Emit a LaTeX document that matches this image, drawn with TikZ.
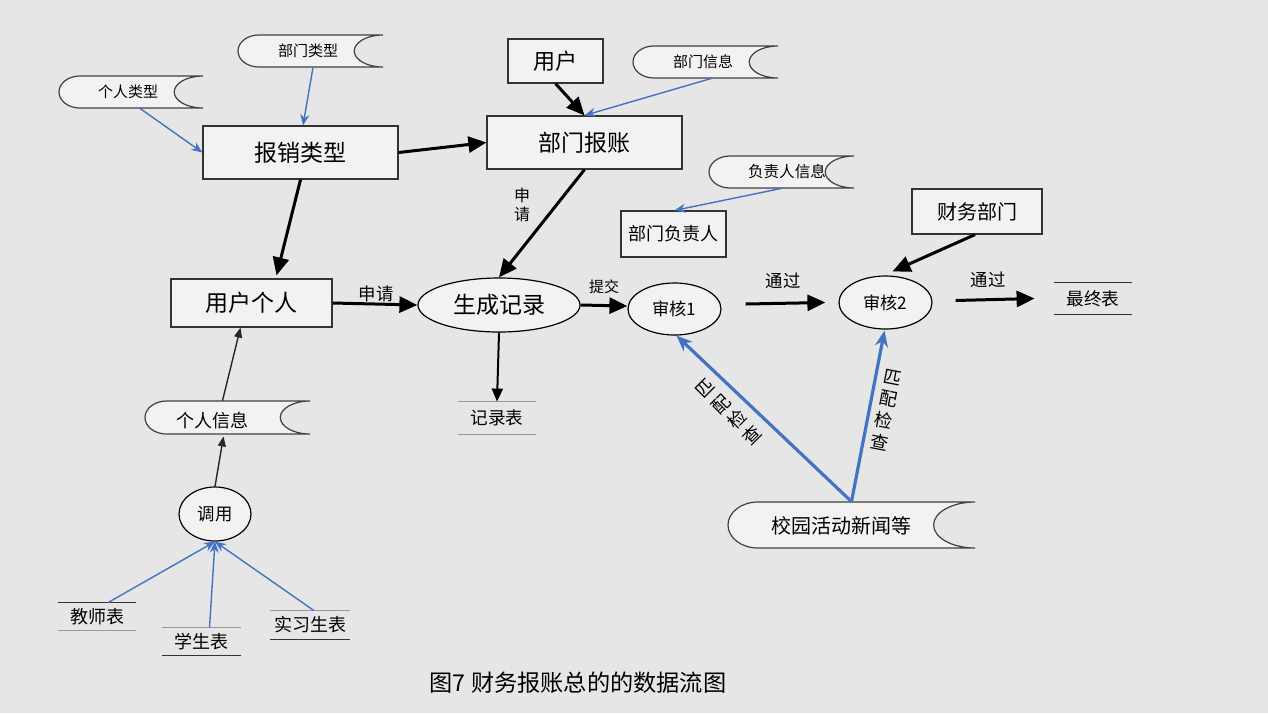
\documentclass[tikz,border=0pt]{standalone}
\usepackage{fontspec}
\setmainfont{Noto Sans CJK SC}
\usetikzlibrary{calc, arrows.meta, positioning, shapes.geometric}
\definecolor{bgcol}{HTML}{E6E6E6}
\definecolor{boxfill}{HTML}{F2F2F2}
\definecolor{flowblue}{HTML}{4472C4}

\newcommand{\setfs}[1]{\fontsize{#1}{#1}\selectfont}
% stored data shape: name, left x, right x, top y, bottom y
\newcommand{\storedata}[5]{%
  \pgfmathsetmacro\sdr{(#5-#4)/2}
  \draw[storeline] ({#2+\sdr*1.3},#4) -- (#3,#4)
    arc[start angle=270, end angle=90, x radius=\sdr*1.8, y radius=\sdr]
    -- ({#2+\sdr*1.3},#5)
    arc[start angle=90, end angle=270, x radius=\sdr*1.3, y radius=\sdr] -- cycle;
  \node[inner sep=0pt, minimum width={(#3-#2)*0.5pt}, minimum height={(#5-#4)*0.5pt}]
    (#1) at ({(#2+#3)/2},{(#4+#5)/2}) {};
}

\begin{document}
\begin{tikzpicture}[x=0.5pt, y=-0.5pt,
    storeline/.style={draw=black!75, fill=boxfill, line width=0.6pt},
    procbox/.style={draw=black!80, fill=boxfill, line width=0.6pt, inner sep=0pt},
    procell/.style={draw=black, fill=boxfill, ellipse, line width=0.6pt, inner sep=0pt},
    storetext/.style={inner sep=0pt},
    tablenode/.style={inner sep=0pt},
    flow/.style={line width=1.5pt, -{Triangle[length=9pt, width=8pt]}},
    thinflow/.style={line width=0.7pt, black!85, -{Triangle[length=5pt, width=4pt]}},
    blueflow/.style={line width=0.7pt, flowblue, -{Stealth[length=5.5pt, width=4.5pt]}},
    bluebold/.style={line width=1.6pt, flowblue, -{Stealth[length=8pt, width=6.5pt]}},
    lbl/.style={inner sep=0pt, font=\setfs{8.7}}]
  \fill[bgcol] (0,0) rectangle (1268,713);
  \useasboundingbox (0,0) rectangle (1268,713);

  % data sources
  \storedata{bumenlx}{238}{383}{35}{67}
  \storedata{gerenlx}{59}{203}{76}{108}
  \storedata{bumenxx}{633}{778}{46}{78}
  \storedata{fuzerenxx}{709}{854}{156}{188}
  \storedata{gerenxx}{145}{310}{401}{434}
  \storedata{xiaoyuan}{728}{975}{502}{548}
  \node[storetext, font=\setfs{7.5}] (bumenlx-t) at (308,51) {部门类型};
  \node[storetext, font=\setfs{7.5}] (gerenlx-t) at (128,92) {个人类型};
  \node[storetext, font=\setfs{7.5}] (bumenxx-t) at (703,62) {部门信息};
  \node[storetext, font=\setfs{7.8}] (fuzerenxx-t) at (787,172) {负责人信息};
  \node[storetext, font=\setfs{9}] (gerenxx-t) at (212,421) {个人信息};
  \node[storetext, font=\setfs{10}] (xiaoyuan-t) at (841,526) {校园活动新闻等};

  % processes and entities
  \node[procbox, minimum width=97.5pt, minimum height=26.5pt, font=\setfs{11.5}] (baoxiao) at (300.5,152.5) {报销类型};
  \node[procbox, minimum width=47.5pt, minimum height=22pt, font=\setfs{11}] (yonghu) at (555.5,61) {用户};
  \node[procbox, minimum width=97.5pt, minimum height=26.5pt, font=\setfs{11.5}] (bumenbz) at (584.5,142.5) {部门报账};
  \node[procbox, minimum width=52.5pt, minimum height=23pt, font=\setfs{9}] (fuzeren) at (673.5,234) {部门负责人};
  \node[procbox, minimum width=65pt, minimum height=22.5pt, font=\setfs{10}] (caiwu) at (977,211.5) {财务部门};
  \node[procbox, minimum width=80.5pt, minimum height=24pt, font=\setfs{11.5}] (yonghugr) at (251.5,303) {用户个人};
  \node[procell, minimum width=81pt, minimum height=27pt, font=\setfs{11.5}] (shengcheng) at (499,305) {生成记录};
  \node[procell, minimum width=46.5pt, minimum height=26pt, font=\setfs{8.6}] (shenhe1) at (674.5,309) {审核1};
  \node[procell, minimum width=46.5pt, minimum height=26.5pt, font=\setfs{8.6}] (shenhe2) at (885.5,302.5) {审核2};
  \node[procell, minimum width=36pt, minimum height=27pt, font=\setfs{8.7}] (diaoyong) at (215,514) {调用};

  % tables
  \node[tablenode, minimum width=39pt, minimum height=15.5pt, font=\setfs{8.8}] (zuizhong) at (1093,298.5) {最终表};
  \node[tablenode, minimum width=39pt, minimum height=16pt, font=\setfs{8.8}] (jilu) at (497,418) {记录表};
  \node[tablenode, minimum width=38.5pt, minimum height=13.5pt, font=\setfs{9}] (jiaoshi) at (97,616.5) {教师表};
  \node[tablenode, minimum width=39.5pt, minimum height=13.5pt, font=\setfs{9}] (xuesheng) at (201.5,641.5) {学生表};
  \node[tablenode, minimum width=39.5pt, minimum height=14pt, font=\setfs{9}] (shixi) at (310,625) {实习生表};
  \foreach \t/\tc/\bc in {zuizhong/black!80/black!80, jilu/black!40/black!40,
      jiaoshi/black!80/black!40, xuesheng/black!40/black!80, shixi/black!40/black!80} {
    \draw[\tc, line width=0.6pt] (\t.north west) -- (\t.north east);
    \draw[\bc, line width=0.6pt] (\t.south west) -- (\t.south east);
  }

  % flows
  \draw[blueflow] ($(gerenlx.south)+(9,0)$) -- (baoxiao.west);
  \draw[blueflow] ($(bumenlx.south)+(2.5,0)$) -- ($(baoxiao.north)+(2.5,0)$);
  \draw[flow] (baoxiao.east) -- (bumenbz.west);
  \draw[flow] (baoxiao.south) -- ($(yonghugr.north)+(25,-3)$);
  \draw[flow] (yonghu.south) -- (bumenbz.north);
  \draw[blueflow] ($(bumenxx.south)+(6,0)$) -- (bumenbz.north);
  \draw[flow] (bumenbz.south) -- (shengcheng.north);
  \draw[blueflow] (fuzerenxx.south) -- ($(fuzeren.north)+(1,0)$);
  \draw[flow] (yonghugr.east) -- (shengcheng.west);
  \draw[flow] (shengcheng.east) -- ($(shenhe1.west)+(0,-3)$);
  \draw[line width=1pt, -{Triangle[length=6.5pt, width=5.5pt]}] (shengcheng.south) -- (jilu.north);
  \draw[flow] ($(shenhe1.east)+(24,-5)$) -- ($(shenhe2.west)+(-13,0)$);
  \draw[flow] ($(caiwu.south)+(-2,0)$) -- ($(shenhe2.north)+(7,-4)$);
  \draw[flow] ($(shenhe2.east)+(23,-2)$) -- ($(zuizhong.west)+(-19,0)$);
  \draw[bluebold] (xiaoyuan.north) -- ($(shenhe1.south)+(2,0)$);
  \draw[bluebold] (xiaoyuan.north) -- ($(shenhe2.south)+(-1,1)$);
  \draw[thinflow] ($(gerenxx.north)+(-5,0)$) -- ($(yonghugr.south)+(-11,0)$);
  \draw[thinflow] (diaoyong.north) -- ($(gerenxx.south)+(-4,2)$);
  \draw[blueflow] ($(jiaoshi.north)+(11,0)$) -- (diaoyong.south);
  \draw[blueflow] ($(xuesheng.north)+(8,0)$) -- (diaoyong.south);
  \draw[blueflow] ($(shixi.north)+(4,0)$) -- (diaoyong.south);

  % flow labels
  \node[lbl, align=center, font=\fontsize{8}{9.5}\selectfont] (shenqing1) at (522,205) {申\\请};
  \node[lbl] (shenqing2) at (376,294) {申请};
  \node[lbl, font=\setfs{7.5}] (tijiao) at (604,287) {提交};
  \node[lbl] (tongguo1) at (783,281) {通过};
  \node[lbl] (tongguo2) at (988,280) {通过};
  \node[lbl, align=center, font=\fontsize{9}{11}\selectfont, rotate=45] (pipei1) at (729,412) {匹\\配\\检\\查};
  \node[lbl, align=center, font=\fontsize{9}{11}\selectfont, rotate=-11] (pipei2) at (886,410) {匹\\配\\检\\查};

  % caption
  \node[inner sep=0pt, font=\setfs{11.6}] (caption) at (578,683) {图7 财务报账总的的数据流图};
\end{tikzpicture}
\end{document}
